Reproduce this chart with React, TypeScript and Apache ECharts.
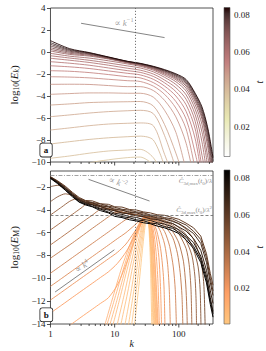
import React, { useEffect, useRef } from 'react';
import * as echarts from 'echarts';

// ---------------- data ----------------
// Panel a: kinetic energy spectra log10(E_k) vs k, one curve per time t
const K_KIN = [1, 2, 4, 8, 16, 25, 40, 60, 90, 130, 180, 230, 280, 320, 341];
const kinTimes = [0.036, 0.038, 0.040, 0.042, 0.044, 0.046, 0.048, 0.050, 0.052, 0.054, 0.056,
  0.058, 0.060, 0.062, 0.064, 0.066, 0.069, 0.072, 0.075, 0.078, 0.081, 0.084];
const kinCurves: (number | null)[][] = [
  [null, -10.8, -10.1, -9.8, -9.6, -9.55, -10.2],
  [-9.66, -9.45, -9.20, -9.00, -8.91, -8.85, -9.60, -11.5],
  [-8.36, -8.15, -7.95, -7.80, -7.70, -7.65, -8.00, -10.4],
  [-7.09, -6.90, -6.70, -6.55, -6.48, -6.45, -6.70, -9.30, -12.0],
  [-5.88, -5.72, -5.55, -5.42, -5.34, -5.30, -5.60, -7.60, -10.6],
  [-4.82, -4.72, -4.60, -4.55, -4.52, -4.50, -4.90, -6.60, -9.20, -12.0],
  [-3.85, -3.78, -3.72, -3.72, -3.75, -3.75, -4.10, -5.30, -7.30, -10.8],
  [-2.94, -2.93, -2.95, -3.05, -3.15, -3.15, -3.50, -4.40, -5.90, -8.30, -12.0],
  [-2.25, -2.28, -2.35, -2.48, -2.61, -2.68, -3.10, -3.85, -5.10, -7.00, -10.7],
  [-1.70, -1.75, -1.87, -2.05, -2.25, -2.35, -2.78, -3.45, -4.50, -6.10, -9.20, -12.0],
  [-1.25, -1.35, -1.50, -1.72, -1.94, -2.08, -2.48, -3.10, -4.00, -5.40, -7.90, -11.5],
  [-0.88, -1.02, -1.20, -1.45, -1.70, -1.85, -2.22, -2.80, -3.60, -4.80, -7.00, -10.6],
  [-0.57, -0.75, -0.95, -1.20, -1.48, -1.65, -2.00, -2.55, -3.25, -4.30, -6.30, -9.40, -12.0],
  [-0.34, -0.55, -0.75, -1.00, -1.27, -1.45, -1.80, -2.30, -2.95, -3.90, -5.70, -8.20, -11.5],
  [-0.12, -0.38, -0.55, -0.80, -1.09, -1.30, -1.65, -2.12, -2.70, -3.55, -5.20, -7.30, -10.3],
  [0.09, -0.22, -0.37, -0.64, -1.00, -1.22, -1.56, -2.00, -2.52, -3.30, -4.80, -6.60, -9.40, -11.0],
  [0.24, -0.12, -0.29, -0.59, -0.96, -1.17, -1.50, -1.90, -2.40, -3.10, -4.50, -6.10, -8.50, -10.8],
  [0.39, -0.02, -0.22, -0.55, -0.93, -1.13, -1.45, -1.82, -2.30, -2.95, -4.30, -5.85, -8.00, -10.3],
  [0.55, 0.07, -0.17, -0.52, -0.90, -1.10, -1.40, -1.75, -2.20, -2.82, -4.15, -5.60, -7.60, -9.70, -10.8],
  [0.70, 0.15, -0.12, -0.49, -0.88, -1.07, -1.36, -1.70, -2.12, -2.70, -4.00, -5.40, -7.30, -9.30, -10.4],
  [0.85, 0.22, -0.08, -0.47, -0.86, -1.05, -1.33, -1.65, -2.05, -2.60, -3.85, -5.20, -7.00, -8.90, -9.90],
  [1.03, 0.30, -0.05, -0.45, -0.85, -1.03, -1.30, -1.60, -1.98, -2.50, -3.75, -5.00, -6.80, -8.60, -9.60],
];

// Panel b: magnetic energy spectra log10(E_M) vs k
const magSpikeTimes = [0.0015, 0.0025, 0.0035, 0.0045, 0.0055, 0.0065, 0.0078, 0.009, 0.0105, 0.012];
const magSpikeCurves: number[][][] = [
  [[20, -14.5], [24, -10.5], [27, -7.6], [30, -5.3], [32, -4.6], [34, -5.4], [36, -8.4], [38, -14.5]],
  [[18, -14.5], [22, -10.8], [26, -7.4], [29, -5.3], [31, -4.5], [34, -5.1], [37, -8.4], [39.5, -14.5]],
  [[16, -14.5], [20, -11.0], [24, -7.8], [28, -5.5], [31, -4.45], [34, -5.0], [37, -7.8], [41, -14.5]],
  [[14, -14.5], [18, -11.2], [22, -8.2], [26, -6.0], [30, -4.5], [33, -4.6], [37, -7.2], [42, -14.5]],
  [[12, -14.5], [16, -11.2], [20, -8.4], [25, -6.0], [30, -4.5], [33, -4.6], [37, -6.8], [43, -14.5]],
  [[10.5, -14.5], [14, -11.5], [18, -8.7], [23, -6.2], [29, -4.6], [33, -4.55], [38, -6.8], [44, -14.5]],
  [[9, -14.5], [12, -11.8], [16, -9.0], [21, -6.5], [28, -4.7], [33, -4.5], [38, -6.5], [45, -14.5]],
  [[8, -14.5], [11, -11.8], [15, -9.0], [20, -6.6], [27, -4.8], [33, -4.5], [39, -6.5], [46, -14.5]],
  [[7.2, -14.5], [10, -11.8], [14, -9.0], [19, -6.7], [26, -4.9], [33, -4.5], [40, -6.5], [47, -14.5]],
  [[6.7, -14.5], [9, -12.0], [13, -9.0], [18, -6.8], [25, -5.0], [32, -4.5], [40, -6.4], [48, -14.5]],
];
const magMidTimes = [0.015, 0.018, 0.022, 0.026, 0.030, 0.034, 0.038, 0.042, 0.046, 0.050, 0.054];
const magMidCurves: number[][][] = [
  [[1.6, -14.5], [2.2, -13.95], [3, -13.4], [4.5, -12.7], [6, -12.2], [8, -11.7], [11, -10.6], [15, -8.8], [20, -6.8], [26, -5.2], [32, -4.5], [38, -5.2], [43, -7.0], [47, -10.0], [50, -14.5]],
  [[1, -13.04], [1.5, -12.34], [2.2, -11.67], [3, -11.13], [4.5, -10.43], [6, -9.93], [8, -9.43], [11, -8.7], [15, -7.7], [20, -6.4], [26, -5.2], [32, -4.6], [38, -5.0], [44, -6.2], [49, -8.2], [52, -11.0], [54, -14.5]],
  [[1, -11.9], [1.5, -11.2], [2.2, -10.53], [3, -9.99], [4.5, -9.29], [6, -8.79], [8, -8.29], [11, -7.73], [15, -7.0], [20, -6.0], [26, -5.1], [32, -4.7], [38, -4.9], [45, -5.8], [52, -7.4], [57, -9.5], [59, -11.0], [61, -14.5]],
  [[1, -10.7], [1.5, -10.0], [2.2, -9.33], [3, -8.79], [4.5, -8.09], [6, -7.59], [8, -7.09], [11, -6.53], [15, -6.0], [20, -5.4], [26, -4.85], [32, -4.7], [40, -4.95], [50, -5.7], [60, -7.0], [67, -8.8], [71, -11.0], [74, -14.5]],
  [[1, -9.55], [1.5, -8.85], [2.2, -8.18], [3, -7.64], [4.5, -6.94], [6, -6.44], [8, -5.94], [11, -5.38], [15, -4.85], [20, -4.5], [28, -4.62], [36, -4.8], [46, -5.1], [60, -5.9], [72, -7.2], [82, -9.0], [88, -11.0], [92, -14.5]],
  [[1, -8.23], [1.5, -7.55], [2.2, -6.9], [3, -6.35], [4.5, -5.62], [6, -5.12], [8, -4.62], [10, -4.25], [13, -4.25], [17, -4.4], [22, -4.5], [28, -4.65], [36, -4.8], [46, -5.0], [60, -5.4], [80, -6.4], [95, -7.8], [105, -9.5], [112, -11.5], [116, -14.5]],
  [[1, -7.07], [1.5, -6.37], [2.2, -5.7], [3, -5.16], [4.5, -4.46], [6, -3.96], [8, -3.9], [10, -4.05], [13, -4.2], [17, -4.35], [22, -4.45], [28, -4.6], [36, -4.75], [46, -4.95], [60, -5.25], [80, -5.9], [100, -6.9], [118, -8.5], [128, -10.5], [133, -12.5], [136, -14.5]],
  [[1, -5.76], [1.5, -5.06], [2.2, -4.39], [3, -3.85], [3.8, -3.45], [4.5, -3.45], [6, -3.7], [8, -3.9], [10, -4.05], [13, -4.2], [17, -4.35], [22, -4.45], [28, -4.55], [36, -4.7], [46, -4.85], [60, -5.1], [80, -5.5], [100, -6.1], [130, -7.4], [145, -8.8], [155, -11.0], [160, -14.5]],
  [[1, -4.45], [1.5, -3.75], [2.0, -3.25], [2.5, -3.05], [3, -3.15], [3.5, -3.35], [4.5, -3.5], [6, -3.75], [8, -3.95], [10, -4.1], [13, -4.25], [17, -4.35], [22, -4.45], [28, -4.55], [36, -4.65], [46, -4.8], [60, -5.0], [80, -5.35], [100, -5.8], [130, -6.7], [160, -8.0], [178, -9.8], [186, -12.0], [189, -14.5]],
  [[1, -3.28], [1.3, -2.85], [1.7, -2.6], [2.2, -2.75], [2.8, -3.15], [3.5, -3.35], [4.5, -3.5], [6, -3.7], [8, -3.9], [10, -4.05], [13, -4.2], [17, -4.3], [22, -4.4], [28, -4.5], [36, -4.6], [46, -4.75], [60, -4.95], [80, -5.2], [100, -5.55], [130, -6.2], [170, -7.5], [200, -9.0], [215, -11.0], [222, -14.5]],
  [[1, -1.97], [1.3, -1.85], [1.7, -2.15], [2.2, -2.6], [2.8, -3.05], [3.5, -3.25], [4.5, -3.4], [6, -3.6], [8, -3.75], [10, -3.9], [13, -4.05], [17, -4.15], [22, -4.25], [28, -4.35], [36, -4.5], [46, -4.6], [60, -4.75], [80, -4.95], [100, -5.25], [130, -5.7], [170, -6.6], [220, -8.4], [245, -10.5], [258, -14.5]],
];
const K_BAND = [1, 1.3, 1.7, 2.2, 2.8, 3.5, 4.5, 6, 8, 10, 13, 17, 22, 28, 36, 46, 60, 80, 100, 130, 170, 220, 270, 310, 341];
const magBandTimes = [0.058, 0.062, 0.066, 0.070, 0.074, 0.079, 0.084];
const magBandCurves: number[][] = [
  [-1.10, -1.47, -1.93, -2.47, -2.92, -3.18, -3.22, -3.47, -3.52, -3.73, -3.76, -3.97, -4.02, -4.18, -4.27, -4.43, -4.48, -4.68, -4.83, -5.17, -5.58, -6.30, -7.85, -9.60, -10.60],
  [-1.12, -1.52, -2.00, -2.55, -3.00, -3.22, -3.36, -3.48, -3.68, -3.78, -3.95, -4.03, -4.18, -4.25, -4.45, -4.50, -4.68, -4.80, -5.05, -5.33, -5.88, -6.60, -8.20, -10.00, -11.10],
  [-1.15, -1.55, -2.07, -2.62, -3.08, -3.32, -3.40, -3.65, -3.75, -3.98, -4.02, -4.23, -4.27, -4.45, -4.55, -4.70, -4.80, -5.02, -5.20, -5.60, -6.08, -6.95, -8.60, -10.40, -11.50],
  [-1.17, -1.58, -2.13, -2.67, -3.15, -3.37, -3.55, -3.72, -3.95, -4.08, -4.28, -4.35, -4.52, -4.60, -4.79, -4.85, -5.06, -5.20, -5.50, -5.86, -6.52, -7.55, -9.30, -11.10, -12.20],
  [-1.20, -1.63, -2.17, -2.74, -3.21, -3.46, -3.58, -3.88, -4.03, -4.30, -4.40, -4.59, -4.67, -4.85, -4.93, -5.13, -5.25, -5.50, -5.74, -6.25, -6.88, -8.05, -9.80, -11.70, -12.90],
  [-1.22, -1.66, -2.25, -2.78, -3.30, -3.48, -3.70, -3.94, -4.20, -4.40, -4.59, -4.70, -4.88, -4.95, -5.15, -5.23, -5.47, -5.62, -5.96, -6.40, -7.20, -8.35, -10.10, -12.00, -13.10],
  [-1.25, -1.72, -2.28, -2.86, -3.33, -3.57, -3.74, -4.07, -4.27, -4.57, -4.68, -4.87, -4.98, -5.13, -5.22, -5.42, -5.58, -5.83, -6.08, -6.62, -7.38, -8.62, -10.40, -12.30, -13.40],
];

// axes / annotations
const K_MIN = 1;
const K_MAX = 341;
const X_MAJOR = [1, 10, 100];
const X_MINOR = [2, 3, 4, 5, 6, 7, 8, 9, 20, 30, 40, 50, 60, 70, 80, 90, 200, 300];
const Y_KIN_RANGE = [-10, 4];
const Y_MAG_RANGE = [-14, -0.6];
const Y_KIN_TICKS = [-10, -8, -6, -4, -2, 0, 2, 4];
const Y_MAG_TICKS = [-14, -12, -10, -8, -6, -4, -2];
const T_KIN_RANGE = [0.004, 0.084];
const T_MAG_RANGE = [0.0005, 0.0845];
const CB_TICKS = [0.02, 0.04, 0.06, 0.08];
const K_MARK = 21;
const REF_KIN_M1 = [[3, 2.61], [60, 1.31]];
const REF_MAG_M2 = [[3.92, -1.33], [35, -3.23]];
const REF_MAG_P4 = [[1.18, -11.2], [9.9, -7.5]];
const LABEL_KIN_M1 = [14, 2.65];
const LABEL_MAG_M2 = [11.3, -1.58];
const LABEL_MAG_P4 = [3.1, -8.95];
const LEVEL_LAMBDA = -0.95;
const LEVEL_LAMBDA2 = -4.5;

// ---------------- styling helpers ----------------
const FONT = "'Liberation Serif', 'DejaVu Serif', serif";
const INK = '#1a1a1a';
const AXC = '#262626';
const GRAY = '#858585';

const clamp = (x: number) => Math.max(0, Math.min(1, x));
const rgb = (r: number, g: number, b: number) =>
  `rgb(${Math.round(clamp(r) * 255)},${Math.round(clamp(g) * 255)},${Math.round(clamp(b) * 255)})`;
function pinkCmap(x: number) {
  const hr = Math.min(1, x / 0.365);
  const hg = clamp((x - 0.365) / 0.381);
  const hb = clamp((x - 0.746) / 0.254);
  const base = (2 / 3) * x;
  return rgb(Math.max(Math.sqrt(base + hr / 3), 0.118), Math.sqrt(base + hg / 3), Math.sqrt(base + hb / 3));
}
const pinkR = (n: number) => pinkCmap(1 - clamp(n));
const copperR = (n: number) => {
  const x = 1 - clamp(n);
  return rgb(Math.min(1, 1.25 * x), 0.7812 * x, 0.4975 * x);
};
const normKin = (t: number) => (t - T_KIN_RANGE[0]) / (T_KIN_RANGE[1] - T_KIN_RANGE[0]);
const normMag = (t: number) => (t - T_MAG_RANGE[0]) / (T_MAG_RANGE[1] - T_MAG_RANGE[0]);

const rich = (size: number, color: string) => ({
  n: { fontFamily: FONT, fontSize: size, color, lineHeight: size + 3 },
  i: { fontFamily: FONT, fontSize: size, color, fontStyle: 'italic', lineHeight: size + 3 },
  sub: { fontFamily: FONT, fontSize: size * 0.7, color, lineHeight: size * 0.7, verticalAlign: 'bottom' },
  subi: { fontFamily: FONT, fontSize: size * 0.7, color, fontStyle: 'italic', lineHeight: size * 0.7, verticalAlign: 'bottom' },
  sup: { fontFamily: FONT, fontSize: size * 0.7, color, lineHeight: size * 0.7, verticalAlign: 'top' },
});

const minus = (v: number) => (v < 0 ? '\u2212' + Math.abs(v) : String(v));

function gradientStops(cmap: (n: number) => string) {
  const stops: any[] = [];
  for (let i = 0; i <= 24; i++) stops.push({ offset: i / 24, color: cmap(i / 24) });
  return stops;
}

function buildOption() {
  const series: any[] = [];
  const lineBase = { type: 'line', showSymbol: false, symbol: 'none', silent: true, clip: true, animation: false };

  // panel a curves
  kinCurves.forEach((vals, i) => {
    series.push({
      ...lineBase, xAxisIndex: 0, yAxisIndex: 0, smooth: 0.3,
      data: vals.map((v, j) => [K_KIN[j], v]),
      lineStyle: { width: 0.85, color: pinkR(normKin(kinTimes[i])) }, z: 2,
    });
  });
  // panel b curves
  magSpikeCurves.forEach((pts, i) => {
    series.push({
      ...lineBase, xAxisIndex: 1, yAxisIndex: 1, smooth: 0.25, data: pts,
      lineStyle: { width: 0.8, color: copperR(normMag(magSpikeTimes[i])) }, z: 2,
    });
  });
  magMidCurves.forEach((pts, i) => {
    series.push({
      ...lineBase, xAxisIndex: 1, yAxisIndex: 1, smooth: 0.25, data: pts,
      lineStyle: { width: 0.9, color: copperR(normMag(magMidTimes[i])) }, z: 2,
    });
  });
  magBandCurves.forEach((vals, i) => {
    series.push({
      ...lineBase, xAxisIndex: 1, yAxisIndex: 1,
      data: vals.map((v, j) => [K_BAND[j], v]),
      lineStyle: { width: 1, color: copperR(normMag(magBandTimes[i])) }, z: 2,
    });
  });

  // reference lines + marks
  series.push({
    ...lineBase, xAxisIndex: 0, yAxisIndex: 0, data: REF_KIN_M1,
    lineStyle: { width: 1, color: GRAY }, z: 4,
    markLine: {
      symbol: ['none', 'none'], silent: true, animation: false,
      label: { show: false },
      lineStyle: { type: [1.2, 1.8], color: '#555', width: 0.8 },
      data: [{ xAxis: K_MARK }],
    },
  });
  const c3d = '{i|\u0108}{sub|3d,max}{n|(}{i|t}{sub|0}{n|)/}{i|\u03bb}';
  series.push({
    ...lineBase, xAxisIndex: 1, yAxisIndex: 1, data: REF_MAG_M2,
    lineStyle: { width: 1, color: GRAY }, z: 4,
    markLine: {
      symbol: ['none', 'none'], silent: true, animation: false,
      label: { show: false },
      lineStyle: { type: [1.2, 1.8], color: '#555', width: 0.8 },
      data: [
        { xAxis: K_MARK },
        {
          yAxis: LEVEL_LAMBDA, lineStyle: { type: [4, 1.5, 1, 1.5], color: '#8a8a8a', width: 0.8 },
          label: { show: true, position: 'insideEndBottom', distance: 1, formatter: c3d, rich: rich(7, '#8a8a8a') },
        },
        {
          yAxis: LEVEL_LAMBDA2, lineStyle: { type: [3, 2], color: '#666', width: 0.8 },
          label: { show: true, position: 'insideEndTop', distance: 1, formatter: c3d + '{sup|2}', rich: rich(7, '#8a8a8a') },
        },
      ],
    },
  });
  series.push({
    ...lineBase, xAxisIndex: 1, yAxisIndex: 1, data: REF_MAG_P4,
    lineStyle: { width: 1, color: GRAY }, z: 4,
  });

  // text labels anchored in data space
  const textPoint = (xi: number, pos: number[], text: string, rotate: number) => ({
    type: 'scatter', xAxisIndex: xi, yAxisIndex: xi, data: [pos], symbolSize: 0, silent: true, z: 6,
    label: { show: true, position: 'inside', rotate, formatter: text, rich: rich(9, GRAY) },
  });
  series.push(textPoint(0, LABEL_KIN_M1, '{n|\u221d }{i|k}{sup|\u22121}', 0));
  series.push(textPoint(1, LABEL_MAG_M2, '{n|\u221d }{i|k}{sup|\u22122}', -18));
  series.push(textPoint(1, LABEL_MAG_P4, '{n|\u221d }{i|k}{sup|4}', 33));

  // x ticks (major + minor) drawn through the log axis
  const tickSeries = (idx: number, yb: number) => ({
    type: 'custom', xAxisIndex: idx, yAxisIndex: idx, silent: true, z: 5,
    data: [...X_MAJOR.map((k) => [k, yb, 3.5]), ...X_MINOR.map((k) => [k, yb, 2])],
    renderItem: (_p: any, api: any) => {
      const pt = api.coord([api.value(0), api.value(1)]);
      return {
        type: 'line',
        shape: { x1: pt[0], y1: pt[1], x2: pt[0], y2: pt[1] + api.value(2) },
        style: { stroke: AXC, lineWidth: 0.8 },
      };
    },
  });
  series.push(tickSeries(0, Y_KIN_RANGE[0]));
  series.push(tickSeries(1, Y_MAG_RANGE[0]));

  // colorbars
  const cbSeries = (idx: number, range: number[], cmap: (n: number) => string) => ({
    type: 'custom', xAxisIndex: idx, yAxisIndex: idx, silent: true, z: 3,
    data: [[0.5, (range[0] + range[1]) / 2]],
    renderItem: (_p: any, api: any) => {
      const a = api.coord([0, range[1]]);
      const b = api.coord([1, range[0]]);
      return {
        type: 'rect',
        shape: { x: a[0], y: a[1], width: b[0] - a[0], height: b[1] - a[1] },
        style: { fill: new echarts.graphic.LinearGradient(0, 1, 0, 0, gradientStops(cmap)), stroke: '#555', lineWidth: 0.6 },
      };
    },
  });
  series.push(cbSeries(2, T_KIN_RANGE, pinkR));
  series.push(cbSeries(3, T_MAG_RANGE, copperR));

  const gridBox = { show: true, borderColor: AXC, borderWidth: 0.8, backgroundColor: 'transparent' };
  const labelStyle = { fontFamily: FONT, fontSize: 9, color: INK };

  const logX = (gridIndex: number, showLabels: boolean) => ({
    type: 'log', logBase: 10, gridIndex, min: K_MIN, max: K_MAX,
    axisLine: { show: false }, axisTick: { show: false }, splitLine: { show: false },
    axisLabel: {
      show: showLabels, ...labelStyle, margin: 5,
      formatter: (v: number) => {
        const r = Math.round(v);
        return Math.abs(v - r) < 1e-6 && X_MAJOR.includes(r) ? String(r) : '';
      },
    },
    ...(showLabels
      ? { name: 'k', nameLocation: 'middle', nameGap: 12, nameTextStyle: { fontFamily: FONT, fontSize: 10, fontStyle: 'italic', color: INK } }
      : {}),
  });

  const valY = (gridIndex: number, range: number[], ticks: number[], name: string) => ({
    type: 'value', gridIndex, min: range[0], max: range[1],
    axisLine: { show: false }, splitLine: { show: false },
    axisTick: { show: true, customValues: ticks, length: 3.5, lineStyle: { color: AXC, width: 0.8 } },
    axisLabel: { show: true, customValues: ticks, ...labelStyle, margin: 5, formatter: (v: number) => minus(v) },
    name, nameLocation: 'middle', nameRotate: 90, nameGap: 21,
    nameTextStyle: { fontFamily: FONT, fontSize: 11, color: INK, rich: rich(11, INK) },
  });

  const cbY = (gridIndex: number, range: number[]) => ({
    type: 'value', gridIndex, min: range[0], max: range[1], position: 'right',
    axisLine: { show: false }, splitLine: { show: false },
    axisTick: { show: true, customValues: CB_TICKS, length: 3, lineStyle: { color: AXC, width: 0.8 } },
    axisLabel: { show: true, customValues: CB_TICKS, ...labelStyle, margin: 4, formatter: (v: number) => v.toFixed(2) },
    name: 't', nameLocation: 'middle', nameRotate: 90, nameGap: 24,
    nameTextStyle: { fontFamily: FONT, fontSize: 10, fontStyle: 'italic', color: INK },
  });

  const boxLabel = (text: string, left: number, top: number) => ({
    type: 'text', left, top, z: 20, silent: true,
    style: {
      text, fontFamily: FONT, fontSize: 9, fontWeight: 'bold', fill: '#111',
      backgroundColor: '#fff', borderColor: '#222', borderWidth: 0.8, borderRadius: 2, padding: [2, 3.5, 2, 3.5],
    },
  });

  return {
    animation: false,
    backgroundColor: '#fff',
    grid: [
      { left: 35, top: 8, width: 178, height: 154, ...gridBox },
      { left: 35, top: 171, width: 178, height: 153, ...gridBox },
      { left: 224, top: 7.5, width: 6, height: 149, show: false },
      { left: 224, top: 170, width: 6, height: 154, show: false },
    ],
    xAxis: [
      logX(0, false),
      logX(1, true),
      { type: 'value', gridIndex: 2, min: 0, max: 1, show: false },
      { type: 'value', gridIndex: 3, min: 0, max: 1, show: false },
    ],
    yAxis: [
      valY(0, Y_KIN_RANGE, Y_KIN_TICKS, '{n|log}{sub|10}{n|(}{i|E}{subi|k}{n|)}'),
      valY(1, Y_MAG_RANGE, Y_MAG_TICKS, '{n|log}{sub|10}{n|(}{i|E}{sub|M}{n|)}'),
      cbY(2, T_KIN_RANGE),
      cbY(3, T_MAG_RANGE),
    ],
    graphic: [boxLabel('a', 39.5, 142.8), boxLabel('b', 39.5, 307.5)],
    series,
  };
}

export default function App() {
  const ref = useRef<HTMLDivElement>(null);
  useEffect(() => {
    const chart = echarts.init(ref.current!, undefined, { renderer: 'svg' });
    chart.setOption(buildOption() as any);
    return () => chart.dispose();
  }, []);
  return <div ref={ref} style={{ position: 'fixed', left: 0, top: 0, width: 266, height: 351 }} />;
}
